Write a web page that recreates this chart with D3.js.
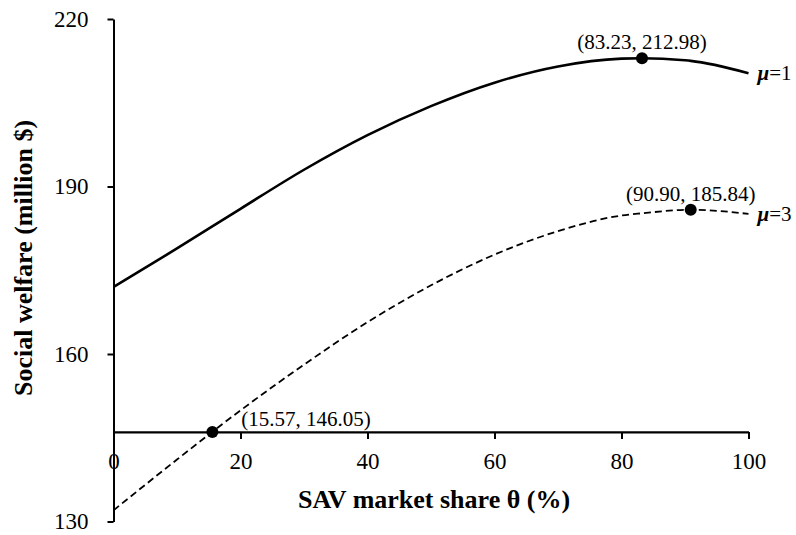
<!DOCTYPE html>
<html>
<head>
<meta charset="utf-8">
<script src="https://cdn.jsdelivr.net/npm/d3@7"></script>
<style>
  html, body { margin: 0; padding: 0; background: #fff; }
  svg { display: block; }
  text { font-family: "Liberation Serif", "Times New Roman", serif; fill: #000; }
</style>
</head>
<body>
<svg id="chart" width="796" height="535"></svg>
<script>
// SAV market share θ (%)
const theta = [0, 10, 20, 30, 40, 50, 60, 70, 80, 83.23, 90, 90.9, 100];

// Social welfare (million $) for each μ
const welfareMu1 = [172.0, 178.9, 186.0, 193.0, 199.2, 204.4, 208.6, 211.5, 212.9, 212.98, 212.6, 212.5, 210.3];
const welfareMu3 = [132.0, 141.1, 149.9, 158.1, 165.7, 172.3, 177.8, 182.0, 184.8, 185.2, 185.82, 185.84, 185.1];

// Highlighted points and their labels
const keyPoints = [
  { x: 83.23, y: 212.98, label: "(83.23, 212.98)", pos: "above" },
  { x: 90.90, y: 185.84, label: "(90.90, 185.84)", pos: "above" },
  { x: 15.57, y: 146.05, label: "(15.57, 146.05)", pos: "right" }
];

const seriesLabels = ["1", "3"];
const xTicks = [0, 20, 40, 60, 80, 100];
const yTicks = [130, 160, 190, 220];
const xAxisAt = 146.05;

const svg = d3.select("#chart");

const x = d3.scaleLinear().domain([0, 100]).range([113.5, 748.5]);
const y = d3.scaleLinear().domain([130, 220]).range([521.5, 19]);

// Y axis
const yAxis = svg.append("g")
  .attr("transform", `translate(${x(0)},0)`)
  .call(d3.axisLeft(y).tickValues(yTicks).tickSize(6).tickSizeOuter(0).tickPadding(19));
yAxis.select(".domain").attr("stroke", "#000").attr("stroke-width", 2);
yAxis.selectAll(".tick line").attr("stroke", "#000").attr("stroke-width", 2);
yAxis.selectAll(".tick text").style("font-size", "23px").style("font-family", "Liberation Serif");

// X axis drawn through the reference welfare level
const xAxis = svg.append("g")
  .attr("transform", `translate(0,${y(xAxisAt)})`)
  .call(d3.axisBottom(x).tickValues(xTicks).tickSize(7).tickSizeOuter(0).tickPadding(14));
xAxis.select(".domain").attr("stroke", "#000").attr("stroke-width", 2.2);
xAxis.selectAll(".tick line").attr("stroke", "#000").attr("stroke-width", 2);
xAxis.selectAll(".tick text").style("font-size", "23px").style("font-family", "Liberation Serif");

// Curves
const line = d3.line()
  .x((d, i) => x(theta[i]))
  .y(d => y(d))
  .curve(d3.curveMonotoneX);

svg.append("path")
  .datum(welfareMu1)
  .attr("d", line)
  .attr("fill", "none")
  .attr("stroke", "#000")
  .attr("stroke-width", 2.6);

svg.append("path")
  .datum(welfareMu3)
  .attr("d", line)
  .attr("fill", "none")
  .attr("stroke", "#000")
  .attr("stroke-width", 1.8)
  .attr("stroke-dasharray", "7,4");

// Key points
svg.selectAll("circle.kp")
  .data(keyPoints)
  .join("circle")
  .attr("class", "kp")
  .attr("cx", d => x(d.x))
  .attr("cy", d => y(d.y))
  .attr("r", 6)
  .attr("fill", "#000");

svg.selectAll("text.kp")
  .data(keyPoints)
  .join("text")
  .attr("class", "kp")
  .attr("x", d => d.pos === "above" ? x(d.x) : x(d.x) + 29)
  .attr("y", d => d.pos === "above" ? y(d.y) - 9 : y(d.y) - 6)
  .attr("text-anchor", d => d.pos === "above" ? "middle" : "start")
  .style("font-size", "21px")
  .text(d => d.label);

// Series labels
const endVals = [welfareMu1[welfareMu1.length - 1], welfareMu3[welfareMu3.length - 1]];
seriesLabels.forEach((s, i) => {
  const t = svg.append("text")
    .attr("x", x(100) + 9)
    .attr("y", y(endVals[i]) + 7)
    .style("font-size", "21px");
  t.append("tspan").style("font-weight", "bold").style("font-style", "italic").text("μ");
  t.append("tspan").text("=" + s);
});

// Axis titles
svg.append("text")
  .attr("x", 434)
  .attr("y", 508)
  .attr("text-anchor", "middle")
  .style("font-size", "26px")
  .style("font-weight", "bold")
  .text("SAV market share θ (%)");

svg.append("text")
  .attr("transform", "translate(32,258) rotate(-90)")
  .attr("text-anchor", "middle")
  .style("font-size", "26px")
  .style("font-weight", "bold")
  .text("Social welfare (million $)");
</script>
</body>
</html>
